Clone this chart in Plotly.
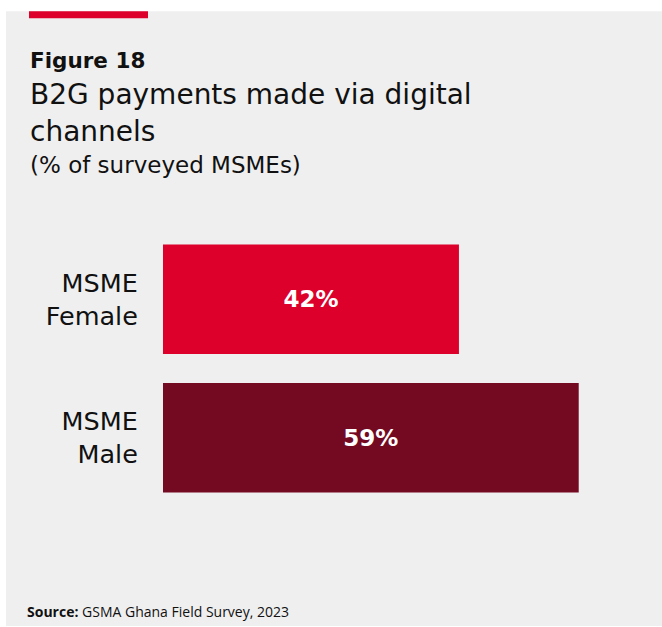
import plotly.graph_objects as go

# Survey results
categories = ["MSME<br>Male", "MSME<br>Female"]
shares = [59, 42]
bar_colors = ["#740a21", "#dc002b"]
value_labels = [f"{v}%" for v in shares]

W, H = 662, 627
# plot area in pixels
L, R = 163, 621
T, B = 229.5, 507.5
X_MAX = 65

FONT = "DejaVu Sans"
SOURCE_FONT = "Open Sans"


def px(x):
    return (x - L) / (R - L)


def py(y):
    return (B - y) / (B - T)


fig = go.Figure(
    go.Bar(
        x=shares,
        y=categories,
        orientation="h",
        marker=dict(color=bar_colors, line=dict(width=0)),
        width=0.79,
        text=value_labels,
        textposition="inside",
        insidetextanchor="middle",
        textfont=dict(family=FONT, size=23, color="white", weight="bold"),
        hoverinfo="skip",
    )
)

shapes = [
    # grey panel
    dict(type="rect", xref="paper", yref="paper", x0=px(6), x1=px(662),
         y0=py(10), y1=py(627), fillcolor="#efefef", line=dict(width=0),
         layer="below"),
    # accent rule
    dict(type="rect", xref="paper", yref="paper", x0=px(29), x1=px(148),
         y0=py(10), y1=py(17), fillcolor="#dc002b", line=dict(width=0),
         layer="above"),
]

annotations = [
    dict(text="<b>Figure 18</b>", x=px(28), y=py(59), size=21.5, family=FONT),
    dict(text="B2G payments made via digital", x=px(28), y=py(94), size=28, family=FONT),
    dict(text="channels", x=px(28), y=py(131), size=28, family=FONT),
    dict(text="(% of surveyed MSMEs)", x=px(28), y=py(164), size=23, family=FONT),
    dict(text="<b>Source:</b> GSMA Ghana Field Survey, 2023", x=px(25), y=py(612),
         size=14, family=SOURCE_FONT),
]
ann = [
    dict(text=a["text"], x=a["x"], y=a["y"], xref="paper", yref="paper",
         xanchor="left", yanchor="middle", showarrow=False, align="left",
         font=dict(family=a["family"], size=a["size"], color="#111111"))
    for a in annotations
]

fig.update_layout(
    width=W, height=H, autosize=False,
    margin=dict(l=L, r=W - R, t=T, b=H - B, pad=0),
    paper_bgcolor="white",
    plot_bgcolor="rgba(0,0,0,0)",
    showlegend=False,
    shapes=shapes,
    annotations=ann,
    xaxis=dict(range=[0, X_MAX], visible=False, fixedrange=True),
    yaxis=dict(
        showgrid=False, zeroline=False, showline=False,
        ticks="outside", ticklen=19, tickcolor="rgba(0,0,0,0)",
        tickfont=dict(family=FONT, size=25.5, color="#111111"),
        fixedrange=True,
    ),
)

fig.write_html("out.html", config={"displayModeBar": False})
